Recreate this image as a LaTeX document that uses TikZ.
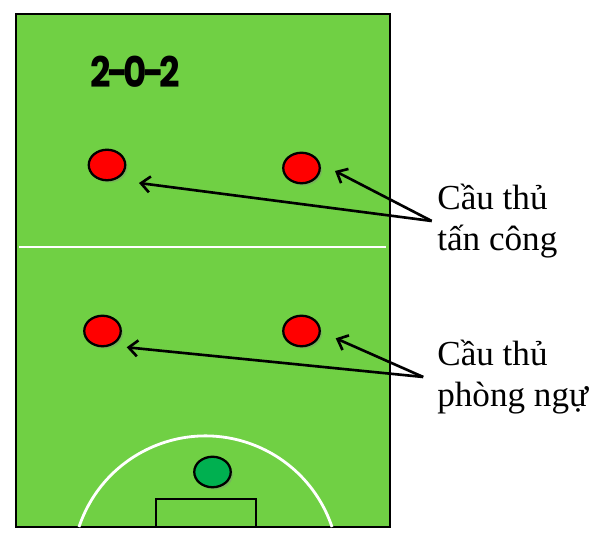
\documentclass[tikz,border=0pt]{standalone}
\usepackage{fontspec}
\setmainfont{Liberation Serif}
\newfontfamily\titlefont[FakeStretch=0.85]{Poppins}
\usetikzlibrary{arrows.meta,shapes.geometric,shadows}
\definecolor{pitch}{RGB}{112,208,68}
\definecolor{keeper}{RGB}{0,176,80}
\begin{document}
\begin{tikzpicture}[x=0.02cm, y=-0.02cm,
    player/.style={ellipse, draw=black, line width=1.3pt, minimum width=0.73cm, minimum height=0.61cm, inner sep=0pt,
      drop shadow={shadow xshift=1.3pt, shadow yshift=-1.3pt, opacity=0.35}},
    lbl/.style={align=left, inner sep=3pt, font=\fontsize{20}{23.3}\selectfont},
    pointer/.style={line width=1.5pt, -{Straight Barb[length=1.8mm, width=3.2mm]}}]
  \useasboundingbox (0,0) rectangle (600,546);

  % sân
  \draw[fill=pitch, line width=1.4pt] (16,14) rectangle (390,527);
  \draw[white, line width=1.3pt] (19,247) -- (386,247);
  \draw[white, line width=1.6pt] (79,527) arc[start angle=198.5, end angle=341.5, radius=133.4];
  \draw[line width=1.4pt] (156,527) -- (156,499) -- (256,499) -- (256,527);

  % sơ đồ
  \node[font=\titlefont\bfseries\fontsize{24}{24}\selectfont] (title) at (135.5,72) {2\kern-2.4pt-\kern-2.4pt0\kern-2.4pt-\kern-2.4pt2};

  % cầu thủ
  \node[player, fill=red] (p1) at (107,165) {};
  \node[player, fill=red] (p2) at (301.5,168) {};
  \node[player, fill=red] (p3) at (102.5,331) {};
  \node[player, fill=red] (p4) at (301.5,331) {};
  \node[player, fill=keeper] (gk) at (212.5,472) {};

  % chú thích
  \node[lbl, anchor=west] (atk) at (431.7,221) {Cầu thủ\\tấn công};
  \node[lbl, anchor=west] (def) at (431.7,377) {Cầu thủ\\phòng ngự};
  \coordinate (defpt) at ([xshift=-0.17cm]def.west);

  % mũi tên
  \coordinate (a1) at (139,183);
  \coordinate (a2) at (335,171);
  \coordinate (b1) at (126.7,347.3);
  \coordinate (b2) at (335.7,338.3);
  \draw[pointer] (atk.west) -- (a1);
  \draw[pointer] (atk.west) -- (a2);
  \draw[pointer] (defpt) -- (b1);
  \draw[pointer] (defpt) -- (b2);

\end{tikzpicture}
\end{document}
